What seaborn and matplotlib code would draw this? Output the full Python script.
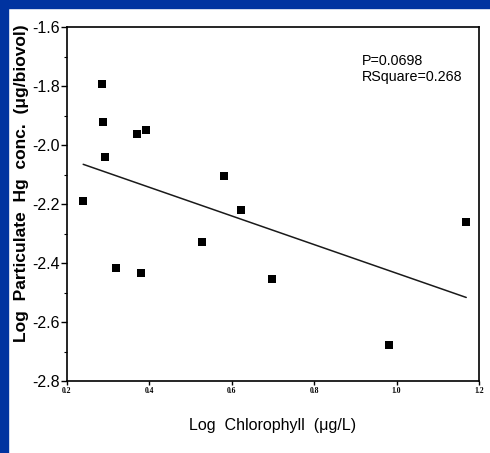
import numpy as np
import pandas as pd
import matplotlib
matplotlib.use("Agg")
import matplotlib.pyplot as plt
import matplotlib.ticker as ticker
import seaborn as sns

# values
log_chl = [0.240, 0.286, 0.288, 0.294, 0.319, 0.370, 0.392, 0.380,
           0.581, 0.623, 0.527, 0.699, 0.981, 1.169]
log_hg = [-2.189, -1.793, -1.921, -2.040, -2.418, -1.963, -1.949, -2.435,
          -2.104, -2.220, -2.329, -2.455, -2.679, -2.262]
stats_text = "P=0.0698\nRSquare=0.268"

df = pd.DataFrame({"chl": log_chl, "hg": log_hg})

sns.set_style("white")
plt.rcParams["font.family"] = ["Liberation Sans", "DejaVu Sans"]
plt.rcParams["text.color"] = "black"
plt.rcParams["axes.labelcolor"] = "black"
plt.rcParams["xtick.color"] = "black"
plt.rcParams["ytick.color"] = "black"

fig = plt.figure(figsize=(4.9, 4.53), dpi=100)
fig.patch.set_facecolor("white")

# blue slide frame on left and top
fig.add_artist(plt.Rectangle((0, 0), 8 / 490, 1, transform=fig.transFigure,
                             color="#0033a0", zorder=0))
fig.add_artist(plt.Rectangle((0, 1 - 8 / 453), 1, 8 / 453, transform=fig.transFigure,
                             color="#0033a0", zorder=0))

ax = fig.add_axes([66.7 / 490, 1 - 381 / 453, 412.3 / 490, 354 / 453])

sns.regplot(data=df, x="chl", y="hg", ax=ax, ci=None, truncate=True, marker="s",
            scatter_kws=dict(s=34, color="black", linewidths=0, alpha=1),
            line_kws=dict(color="#1a1a1a", lw=1.1))

ax.set_xlim(0.2, 1.2)
ax.set_ylim(-2.8, -1.6)
ax.xaxis.set_major_locator(ticker.MultipleLocator(0.2))
ax.yaxis.set_major_locator(ticker.MultipleLocator(0.2))
ax.yaxis.set_minor_locator(ticker.MultipleLocator(0.1))
ax.xaxis.set_major_formatter(ticker.FormatStrFormatter("%.1f"))
ax.yaxis.set_major_formatter(ticker.FormatStrFormatter("%.1f"))

ax.tick_params(axis="both", which="both", direction="out", color="black",
               bottom=True, left=True)
ax.tick_params(axis="y", which="major", length=4, width=1, labelsize=11.5, pad=1)
ax.tick_params(axis="y", which="minor", length=2, width=0.8)
ax.tick_params(axis="x", which="major", length=3, width=1, labelsize=5.5, pad=1)
for lab in ax.get_xticklabels():
    lab.set_family(["Liberation Serif", "DejaVu Serif"])
    lab.set_fontweight("bold")

for sp in ax.spines.values():
    sp.set_color("black")
    sp.set_linewidth(1.2)

ax.set_xlabel("Log  Chlorophyll  (\u03bcg/L)", fontsize=11.5, labelpad=17)
ax.set_ylabel("Log  Particulate  Hg  conc.  (\u03bcg/biovol)", fontsize=12.5,
              fontweight="bold")
ax.yaxis.set_label_coords(-0.092, 0.56)

ax.text(0.715, 0.925, stats_text, transform=ax.transAxes, fontsize=10.3,
        va="top", ha="left", linespacing=1.2)

fig.savefig("out.png", dpi=100, facecolor="white")
